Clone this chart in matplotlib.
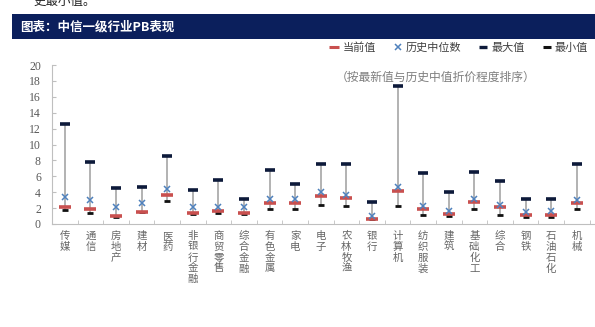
import matplotlib.pyplot as plt
import numpy as np
from matplotlib.lines import Line2D
from matplotlib.patches import Rectangle

plt.rcParams['font.family'] = ['Noto Sans CJK SC', 'DejaVu Sans']

# 中信一级行业 PB (按最新值与历史中值折价程度排序)
industries = ['传媒', '通信', '房地产', '建材', '医药', '非银行金融', '商贸零售', '综合金融',
              '有色金属', '家电', '电子', '农林牧渔', '银行', '计算机', '纺织服装', '建筑',
              '基础化工', '综合', '钢铁', '石油石化', '机械', '']
pb_current = [2.2, 1.9, 0.97, 1.55, 3.7, 1.35, 1.58, 1.4, 2.6, 2.7, 3.55, 3.25,
              0.67, 4.17, 1.83, 1.2, 2.8, 2.1, 1.08, 1.08, 2.67, 2.2]
pb_median = [3.45, 3.0, 2.1, 2.6, 4.45, 2.1, 2.2, 2.1, 3.1, 3.2, 4.05, 3.67,
             1.05, 4.6, 2.3, 1.58, 3.17, 2.4, 1.5, 1.58, 3.0, np.nan]
pb_max = [12.6, 7.8, 4.5, 4.67, 8.6, 4.25, 5.55, 3.2, 6.75, 5.0, 7.5, 7.5,
          2.75, 17.4, 6.4, 4.05, 6.5, 5.42, 3.2, 3.2, 7.5, np.nan]
pb_min = [1.8, 1.4, 0.9, 1.5, 2.95, 1.2, 1.4, 1.25, 1.83, 1.9, 2.4, 2.3,
          0.62, 2.3, 1.17, 1.0, 1.83, 1.17, 0.9, 0.9, 1.83, np.nan]

W, H = 595, 327
fig = plt.figure(figsize=(W / 100, H / 100), dpi=100)

# header bar
fig.patches.append(Rectangle((12 / W, 1 - 39 / H), 1, 25 / H, transform=fig.transFigure,
                             facecolor='#0b1f5c', edgecolor='none'))
fig.text(20 / W, 1 - 26.5 / H, '图表：中信一级行业PB表现', color='white', fontsize=9,
         fontweight='bold', va='center', ha='left')
# text cut off at the top of the page (as in the reference)
fig.text(33 / W, 1 - 1 / H, '史最小值。', color='#222222', fontsize=9, va='center', ha='left')

n = len(industries)
step = 25.6
left = 52
ax = fig.add_axes([left / W, 1 - 224 / H, n * step / W, 159 / H])
x = np.arange(n)

ax.vlines(x, pb_min, pb_max, color='#a6a6a6', lw=1.2, zorder=1)
ax.plot(x, pb_min, ls='none', marker='_', ms=5, mew=2.0, color='#111111', zorder=2)
ax.plot(x, pb_max, ls='none', marker='_', ms=6.5, mew=2.6, color='#0d1a3a', zorder=2)
ax.plot(x, pb_current, ls='none', marker='_', ms=9, mew=2.6, color='#c9504f', zorder=3)
ax.plot(x, pb_median, ls='none', marker='x', ms=5, mew=1.1, color='#4f81bd', zorder=4)

ax.set_xlim(-0.5, n - 0.5)
ax.set_ylim(0, 20)
ax.set_yticks(np.arange(0, 21, 2))
ax.set_yticklabels([str(v) for v in range(0, 21, 2)], family='Liberation Serif',
                   fontsize=8.5, color='#595959')
ax.set_xticks(np.arange(n + 1) - 0.5, minor=True)
ax.set_xticks(x)
ax.set_xticklabels(['\n'.join(s) for s in industries], fontsize=7.5, color='#666666',
                   va='top', linespacing=1.1)
ax.tick_params(axis='x', which='major', length=0, pad=5)
ax.tick_params(axis='x', which='minor', direction='in', length=3, color='#bfbfbf')
ax.tick_params(axis='y', direction='in', length=3, color='#bfbfbf', pad=8)
for s in ['top', 'right']:
    ax.spines[s].set_visible(False)
for s in ['left', 'bottom']:
    ax.spines[s].set_color('#bfbfbf')
ax.patch.set_alpha(0)

handles = [
    Line2D([], [], ls='none', marker='_', ms=7, mew=2.2, color='#c9504f'),
    Line2D([], [], ls='none', marker='x', ms=5, mew=1.1, color='#4f81bd'),
    Line2D([], [], ls='none', marker='_', ms=6, mew=2.4, color='#0d1a3a'),
    Line2D([], [], ls='none', marker='_', ms=6, mew=2.2, color='#111111'),
]
fig.legend(handles, ['当前值', '历史中位数', '最大值', '最小值'], ncol=4, frameon=False,
           loc='center left', bbox_to_anchor=(320 / W, 1 - 48 / H), fontsize=8,
           handlelength=0.8, handletextpad=0.3, columnspacing=1.6, labelcolor='#404040')

fig.text(336 / W, 1 - 77 / H, '（按最新值与历史中值折价程度排序）', fontsize=8.5,
         color='#7f7f7f', va='center', ha='left')

fig.savefig('out.png', dpi=100)
